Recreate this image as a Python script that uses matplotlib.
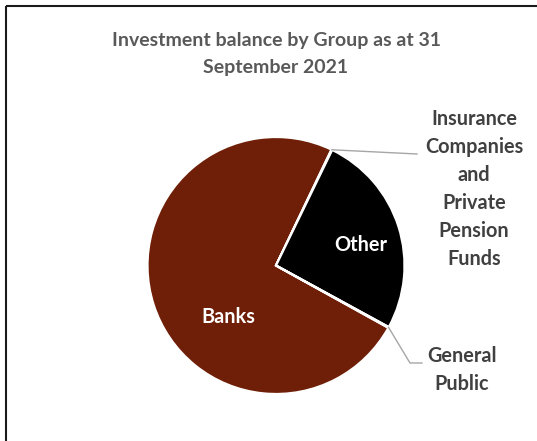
import matplotlib
matplotlib.use("Agg")
import matplotlib.pyplot as plt
import matplotlib.transforms as mtransforms
from matplotlib.patches import Rectangle
import numpy as np

# investment balance shares (%)
groups = ["Banks", "Insurance Companies and Private Pension Funds", "Other", "General Public"]
shares = [74.05, 0.1, 25.75, 0.1]
colors = ["#6F1F07", "#6F1F07", "#000000", "#6F1F07"]
title = "Investment balance by Group as at 31\nSeptember 2021"

W, H = 537, 441
fig = plt.figure(figsize=(W / 100, H / 100), dpi=100)
plt.rcParams['font.family'] = ['Lato', 'DejaVu Sans']

# pixel coords measured from the top-left corner
pix = mtransforms.Affine2D().scale(1, -1).translate(0, H)

cx, cy, r = 276, 265.5, 128.5
ax = fig.add_axes([(cx - r) / W, (H - cy - r) / H, 2 * r / W, 2 * r / H])
wedges, _ = ax.pie(shares, colors=colors, startangle=-29, counterclock=False,
                   radius=1, wedgeprops=dict(edgecolor="white", linewidth=1.6))
ax.set_xlim(-1, 1)
ax.set_ylim(-1, 1)
ax.set_aspect("equal")
ax.axis("off")

# outer frame (only top/left edges are inside the image)
fig.add_artist(Rectangle((6, 6), 600, 500, transform=pix, fill=False,
                         edgecolor="#1a1a1a", linewidth=1.5))

fig.text(276, 54, title, transform=pix, ha="center", va="center",
         fontsize=14, fontweight="bold", color="#595959", linespacing=1.67)

# labels inside the big slices
fig.text(361, 245, "Other", transform=pix, ha="center", va="center",
         fontsize=14.3, fontweight="bold", color="white")
fig.text(228, 317, "Banks", transform=pix, ha="center", va="center",
         fontsize=14.3, fontweight="bold", color="white")

# outside labels for the tiny slices with leader lines
fig.text(474, 189, "Insurance\nCompanies\nand\nPrivate\nPension\nFunds", transform=pix,
         ha="center", va="center", fontsize=14.3, fontweight="bold", color="#404040",
         linespacing=1.51)
fig.text(462, 370, "General\nPublic", transform=pix, ha="center", va="center",
         fontsize=14.3, fontweight="bold", color="#404040", linespacing=1.51)


def edge_point(w):
    a = np.deg2rad((w.theta1 + w.theta2) / 2)
    return cx + r * np.cos(a), cy - r * np.sin(a)


x0, y0 = edge_point(wedges[1])
fig.add_artist(plt.Line2D([x0, 417], [y0, 154], transform=pix,
                          color="#A6A6A6", linewidth=1))
x0, y0 = edge_point(wedges[3])
fig.add_artist(plt.Line2D([x0, 410, 422], [y0, 363, 363], transform=pix,
                          color="#A6A6A6", linewidth=1))

fig.savefig("out.png", dpi=100)
